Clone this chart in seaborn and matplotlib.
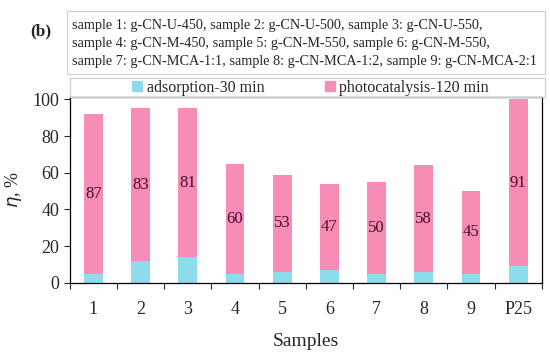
import matplotlib
matplotlib.use("Agg")
import matplotlib.pyplot as plt
import matplotlib.patches as mpatches
from matplotlib.ticker import FixedLocator
import numpy as np
import pandas as pd
import seaborn as sns

samples = ["1", "2", "3", "4", "5", "6", "7", "8", "9", "P25"]
adsorption = [5, 12, 14, 5, 6, 7, 5, 6, 5, 9]
photocatalysis = [87, 83, 81, 60, 53, 47, 50, 58, 45, 91]
legend_labels = ["adsorption-30 min", "photocatalysis-120 min"]
sample_info = ("sample 1: g-CN-U-450, sample 2: g-CN-U-500, sample 3: g-CN-U-550,\n"
               "sample 4: g-CN-M-450, sample 5: g-CN-M-550, sample 6: g-CN-M-550,\n"
               "sample 7: g-CN-MCA-1:1, sample 8: g-CN-MCA-1:2, sample 9: g-CN-MCA-2:1")

blue = "#8ddcec"
pink = "#f78db6"

df = pd.DataFrame({"sample": samples, "ads": adsorption, "photo": photocatalysis})
df["total"] = df["ads"] + df["photo"]

sns.set_style("ticks")
plt.rcParams["font.family"] = ["Liberation Serif", "DejaVu Serif"]

fig = plt.figure(figsize=(5.5, 3.55), dpi=100)
ax = fig.add_axes([0.127, 0.203, 0.858, 0.525])

# pink = total, then the blue adsorption part drawn over the bottom
sns.barplot(data=df, x="sample", y="total", color=pink, width=0.4,
            saturation=1, ax=ax, edgecolor="none")
sns.barplot(data=df, x="sample", y="ads", color=blue, width=0.4,
            saturation=1, ax=ax, edgecolor="none")

for i, row in df.iterrows():
    ax.text(i, row["ads"] + row["photo"] / 2, str(row["photo"]),
            ha="center", va="center", fontsize=12, color="#4a0d2c")

ax.set_xlim(-0.5, len(samples) - 0.5)
ax.set_ylim(0, 101.5)
ax.set_yticks([0, 20, 40, 60, 80, 100])
ax.xaxis.set_minor_locator(FixedLocator(np.arange(-0.5, len(samples), 1)))
ax.tick_params(axis="x", which="major", length=0, labelsize=13, pad=13)
ax.tick_params(axis="x", which="minor", length=4.5, width=0.8, direction="out")
ax.tick_params(axis="y", length=4.5, width=0.8, labelsize=13, pad=3)
for s in ax.spines.values():
    s.set_visible(True)
    s.set_linewidth(0.9)
    s.set_color("black")

ax.set_xlabel("Samples", fontsize=14, labelpad=11)
ax.set_ylabel(r"$\eta$, %", fontsize=13, labelpad=6)

# legend strip above the axes
fig.patches.append(mpatches.Rectangle((0.127, 0.727), 0.864, 0.053,
                                      transform=fig.transFigure, fill=False,
                                      ec="#cccccc", lw=0.8))
handles = [mpatches.Patch(color=blue, label=legend_labels[0]),
           mpatches.Patch(color=pink, label=legend_labels[1])]
fig.legend(handles=handles, ncol=2, loc="center",
           bbox_to_anchor=(0.565, 0.7535), fontsize=11.5, frameon=False,
           handlelength=0.6, handleheight=0.6, handletextpad=0.3,
           borderpad=0.0, columnspacing=3.8)

# sample names box
fig.patches.append(mpatches.Rectangle((0.122, 0.792), 0.869, 0.178,
                                      transform=fig.transFigure, fill=False,
                                      ec="#cccccc", lw=0.8))
fig.text(0.131, 0.947, sample_info, ha="left", va="top", fontsize=10.3,
         linespacing=1.5)
fig.text(0.055, 0.912, "(b)", ha="left", va="center", fontsize=12.5,
         fontweight="bold")

fig.savefig("out.png", dpi=100)
